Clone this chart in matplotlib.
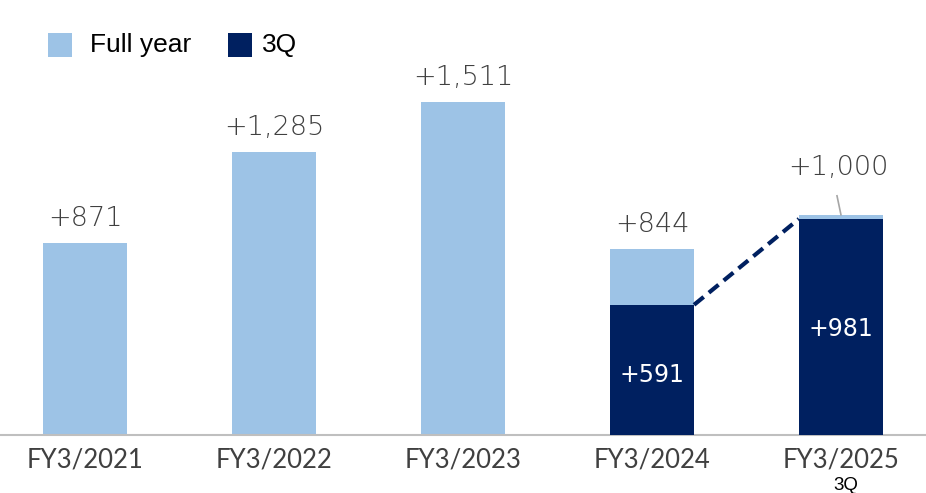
import matplotlib.pyplot as plt
from matplotlib.patches import Rectangle

plt.rcParams.update({'font.family': ['DejaVu Sans']})

years = ['FY3/2021', 'FY3/2022', 'FY3/2023', 'FY3/2024', 'FY3/2025']
full_year = [871, 1285, 1511, 844, 1000]
q3 = [None, None, None, 591, 981]
full_labels = ['+871', '+1,285', '+1,511', '+844', '+1,000']
q3_labels = [None, None, None, '+591', '+981']

light = '#9DC3E6'
dark = '#002060'
txt = '#404040'

W, H = 926, 493
f = plt.figure(figsize=(W/100, H/100), dpi=100, facecolor='white')
ax = f.add_axes([0, 1 - 435/H, 1, 435/H])
x = list(range(len(years)))
w = 0.445

ax.bar(x, full_year, width=w, color=light, zorder=2)
qx = [i for i in x if q3[i] is not None]
qv = [q3[i] for i in qx]
ax.bar(qx, qv, width=w, color=dark, zorder=3)

# labels above bars
for i in x:
    if i == 4:
        continue
    ax.text(i, full_year[i] + 113, full_labels[i], ha='center', va='center',
            fontsize=19.5, color=txt, weight='light')
# +1,000 label with leader line
ax.plot([4, 4 - 0.021], [full_year[4], full_year[4] + 86], color='#a6a6a6', lw=1.2, zorder=4)
ax.text(4 - 0.015, full_year[4] + 213, full_labels[4], ha='center', va='center',
        fontsize=19.5, color=txt, weight='light')

# values inside the 3Q bars
ax.text(3, 591 - 318, q3_labels[3], ha='center', va='center',
        fontsize=17, color='white', zorder=5)
ax.text(4, 981 - 500, q3_labels[4], ha='center', va='center',
        fontsize=17, color='white', zorder=5)

# dashed connector between 3Q bars
ax.plot([3 + w/2, 4 - w/2], [q3[3], q3[4]], color=dark, lw=3, ls=(0, (3, 1.6)), zorder=4)

ax.set_xlim(-0.45, 4.45)
ax.set_ylim(0, 1975)
for s in ['top', 'right', 'left']:
    ax.spines[s].set_visible(False)
ax.spines['bottom'].set_color('#bfbfbf')
ax.spines['bottom'].set_linewidth(1.5)
ax.set_yticks([])
ax.set_xticks(x)
ax.set_xticklabels(years, fontsize=18.5, color=txt, family=['Lato', 'DejaVu Sans'])
ax.tick_params(axis='x', length=0, pad=9)
f.text(846/W, 1 - 485/H, '3Q', ha='center', va='center', fontsize=13.5,
       color='black', family=['Liberation Sans', 'DejaVu Sans'])

# legend drawn by hand
lab_font = ['Liberation Sans', 'DejaVu Sans']
f.add_artist(Rectangle((48/W, 1 - 57/H), 24/W, 24/H, transform=f.transFigure,
                       facecolor=light, edgecolor='none'))
f.text(90/W, 1 - 45/H, 'Full year', ha='left', va='center', fontsize=19,
       color='black', family=lab_font)
f.add_artist(Rectangle((228/W, 1 - 57/H), 24/W, 24/H, transform=f.transFigure,
                       facecolor=dark, edgecolor='none'))
f.text(262/W, 1 - 45/H, '3Q', ha='left', va='center', fontsize=19,
       color='black', family=lab_font)

f.savefig('out.png', dpi=100)
plt.close(f)
